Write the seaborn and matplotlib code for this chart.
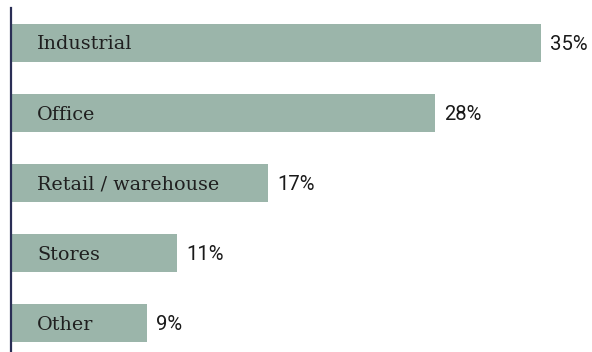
import matplotlib
matplotlib.use("Agg")
import matplotlib.pyplot as plt
import seaborn as sns
import pandas as pd

categories = ["Industrial", "Office", "Retail / warehouse", "Stores", "Other"]
values = [35, 28, 17, 11, 9]
value_labels = ["35%", "28%", "17%", "11%", "9%"]

df = pd.DataFrame({"category": categories, "value": values})

sns.set_theme(style="white")

fig = plt.figure(figsize=(5.92, 3.52), dpi=100)
ax = fig.add_axes([10.5 / 592, 0.0, 1 - 10.5 / 592, 1 - 8 / 352])

sns.barplot(data=df, x="value", y="category", order=categories, color="#9bb5aa",
            saturation=1, width=0.543, ax=ax, edgecolor="none")

ax.set_xlim(0, (592 - 10.5) / 15.15)
ax.set_ylim(4.5 - 6.5 / 70, -0.5)

for i, (cat, v, lab) in enumerate(zip(categories, values, value_labels)):
    ax.text(1.75, i + 0.02, cat, ha="left", va="center", fontsize=13.8,
            family="DejaVu Serif", color="#1f1f1f")
    ax.text(v + 0.6, i + 0.02, lab, ha="left", va="center", fontsize=14.6,
            family="Roboto", color="#1a1a1a")

for s in ["top", "right", "bottom"]:
    ax.spines[s].set_visible(False)
ax.spines["left"].set_color("#2a2e55")
ax.spines["left"].set_linewidth(1.6)
ax.set_xticks([])
ax.set_yticks([])
ax.set_xlabel("")
ax.set_ylabel("")

fig.savefig("out.png", dpi=100)
